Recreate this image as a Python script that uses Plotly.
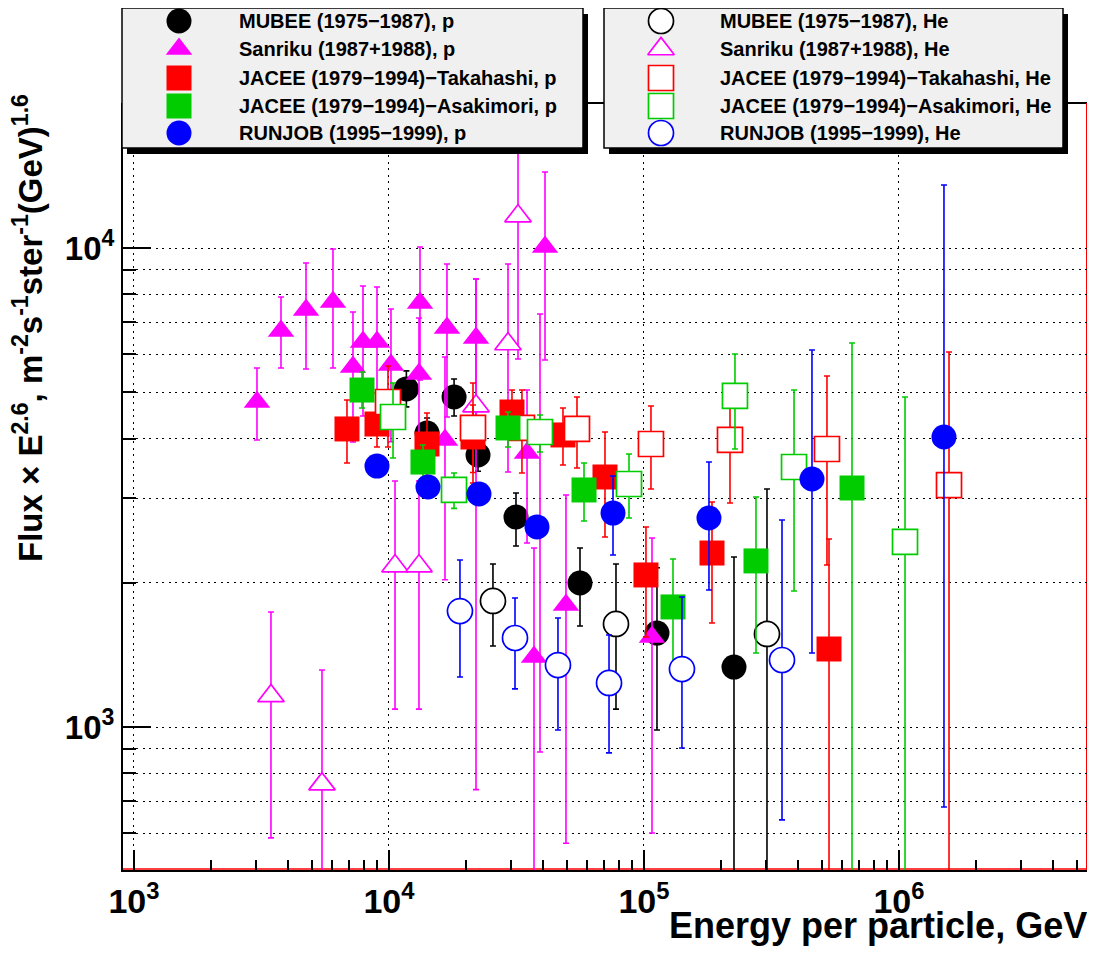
import plotly.graph_objects as go

# The page adds an 8px body margin, so the figure is 8px smaller than the 1095x966 window
OFF = 8
W, H = 1095 - OFF, 966 - OFF
FONT = "Liberation Sans, Arial, Helvetica, sans-serif"


def PX(sx):  # window pixel -> paper x
    return (sx - OFF) / W


def PY(sy):  # window pixel -> paper y
    return 1 - (sy - OFF) / H


# ---------------- data: energy (GeV), flux x E^2.6, upper / lower error-bar ends -------------
mubee_p_E = [11700, 14100, 18000, 22340, 31480, 56110, 112450, 225400]
mubee_p_F = [5080, 4110, 4886, 3697, 2744, 1998, 1571, 1334]
mubee_p_hi = [5540, 4417, 5328, 3975, 3080, 2364, 2150, 2264]
mubee_p_lo = [4660, 3800, 4460, 3420, 2387, 1625, 986, 300]

mubee_he_E = [25570, 77660, 303600]
mubee_he_F = [1833, 1641, 1564]
mubee_he_hi = [2189, 2189, 3140]
mubee_he_lo = [1476, 1090, 300]

sanriku_p_E = [3036, 3771, 4727, 6030, 7224, 7908, 8973, 10180, 13230, 13110,
               16880, 21940, 16580, 34780, 40910, 37040, 49440, 107500]
sanriku_p_F = [4770, 6709, 7423, 7714, 5644, 6364, 6364, 5698, 7677, 5457,
               6807, 6487, 3974, 3733, 10050, 1400, 1798, 1541]
sanriku_p_hi = [5617, 7900, 9304, 9952, 7352, 8330, 8290, 7459, 10050, 7143,
                9260, 8615, 5921, 5052, 14410, 2364, 3050, 2481]
sanriku_p_lo = [3974, 5617, 5590, 5617, 3936, 4460, 4440, 3940, 5300, 3770,
                4438, 4360, 2030, 2422, 5836, 300, 572, 601]

sanriku_he_E = [3445, 5461, 10560, 13110, 21940, 29290, 32060, 39100]
sanriku_he_F = [1161, 760, 2168, 2168, 4678, 6303, 11660, 4071]
sanriku_he_hi = [1738, 1315, 3263, 3263, 8615, 9260, 17460, 7282]
sanriku_he_lo = [587, 300, 1090, 1090, 740, 3407, 5865, 887]

jt_p_E = [6843, 8973, 14090, 21350, 30360, 48120, 70320, 101800, 184800, 531600]
jt_p_F = [4190, 4291, 3898, 4031, 4546, 4071, 3326, 2077, 2308, 1455]
jt_p_hi = [4815, 4982, 4524, 4700, 5052, 4635, 4129, 2616, 2950, 2469]
jt_p_lo = [3557, 3842, 3270, 3400, 4040, 3523, 2493, 1541, 1649, 300]

jt_he_E = [9910, 21350, 33220, 54610, 106500, 217400, 521900, 1571000]
jt_he_F = [4770, 4210, 4210, 4190, 3898, 3974, 3805, 3200]
jt_he_hi = [5671, 5227, 5052, 4886, 4678, 5006, 5405, 6064]
jt_he_lo = [3842, 3231, 3391, 3473, 3140, 2935, 2179, 300]

ja_p_E = [7837, 13590, 29290, 58180, 129950, 274900, 654300]
ja_p_F = [5052, 3574, 4210, 3125, 1781, 2222, 3155]
ja_p_hi = [5510, 3880, 4546, 3557, 2243, 3021, 6334]
ja_p_lo = [4635, 3270, 3842, 2692, 1315, 1427, 300]

ja_he_E = [10370, 17990, 39100, 87340, 227400, 387600, 1056000]
ja_he_F = [4438, 3125, 4129, 3216, 4910, 3490, 2434]
ja_he_hi = [5227, 3391, 4481, 3715, 6006, 5052, 4886]
ja_he_lo = [3644, 2860, 3751, 2731, 3805, 1923, 300]

rj_p_E = [8973, 14220, 22540, 38050, 75600, 179800, 455800, 1501000]
rj_p_F = [3506, 3170, 3065, 2616, 2797, 2731, 3294, 4031]
rj_p_hi = [3600, 3260, 3150, 2690, 3342, 3574, 6123, 13540]
rj_p_lo = [3410, 3080, 2980, 2540, 2286, 1932, 1427, 681]

rj_he_E = [18980, 31200, 45990, 72920, 140900, 347700]
rj_he_F = [1746, 1534, 1347, 1236, 1321, 1380]
rj_he_hi = [2232, 1859, 1689, 1556, 1868, 2705]
rj_he_lo = [1272, 1201, 986, 883, 904, 640]

x_major = [1e3, 1e4, 1e5, 1e6]
x_major_text = ["10<sup>3</sup>", "10<sup>4</sup>", "10<sup>5</sup>", "10<sup>6</sup>"]
x_minor = [m * 10 ** d for d in (3, 4, 5) for m in range(2, 10)] + [2e6, 3e6, 4e6, 5e6, 6e6]
y_major = [1e3, 1e4]
y_major_text = ["10<sup>3</sup>", "10<sup>4</sup>"]
y_minor = [600, 700, 800, 900] + [m * 1000 for m in range(2, 10)]

MAG, RED, GRN, BLU, BLK = "#ff00ff", "#ff0000", "#00cc00", "#0000ff", "#000000"

# series: (label, E, F, hi, lo, colour, symbol, filled, legend column)
SERIES = [
    ("MUBEE (1975\u22121987), p", mubee_p_E, mubee_p_F, mubee_p_hi, mubee_p_lo, BLK, "circle", True, 0),
    ("MUBEE (1975\u22121987), He", mubee_he_E, mubee_he_F, mubee_he_hi, mubee_he_lo, BLK, "circle", False, 1),
    ("Sanriku (1987+1988), p", sanriku_p_E, sanriku_p_F, sanriku_p_hi, sanriku_p_lo, MAG, "triangle-up", True, 0),
    ("Sanriku (1987+1988), He", sanriku_he_E, sanriku_he_F, sanriku_he_hi, sanriku_he_lo, MAG, "triangle-up", False, 1),
    ("JACEE (1979\u22121994)\u2212Takahashi, p", jt_p_E, jt_p_F, jt_p_hi, jt_p_lo, RED, "square", True, 0),
    ("JACEE (1979\u22121994)\u2212Takahashi, He", jt_he_E, jt_he_F, jt_he_hi, jt_he_lo, RED, "square", False, 1),
    ("JACEE (1979\u22121994)\u2212Asakimori, p", ja_p_E, ja_p_F, ja_p_hi, ja_p_lo, GRN, "square", True, 0),
    ("JACEE (1979\u22121994)\u2212Asakimori, He", ja_he_E, ja_he_F, ja_he_hi, ja_he_lo, GRN, "square", False, 1),
    ("RUNJOB (1995\u22121999), p", rj_p_E, rj_p_F, rj_p_hi, rj_p_lo, BLU, "circle", True, 0),
    ("RUNJOB (1995\u22121999), He", rj_he_E, rj_he_F, rj_he_hi, rj_he_lo, BLU, "circle", False, 1),
]

# legend layout (window pixels)
LEG_BOX_X = [(122, 583), (604, 1063)]
LEG_BOX_Y = (8, 148)
LEG_KEY_X = [179, 661]
LEG_TEXT_X = [237, 718]
LEG_ROW_Y = [21, 49, 78, 106, 133]
SHADOW = (5, 6)


def marker_style(color, symbol, filled):
    size = 23 if symbol.startswith("triangle") else 25
    return dict(symbol=symbol, size=size, color=color if filled else "white",
                line=dict(color=color, width=0 if filled else 1.7))


fig = go.Figure()
row_count = [0, 0]
for name, E, F, hi, lo, color, symbol, filled, col in SERIES:
    plus = [h - f for h, f in zip(hi, F)]
    minus = [f - l for f, l in zip(F, lo)]
    fig.add_trace(go.Scatter(
        x=E, y=F, mode="markers", name=name, showlegend=False,
        marker=marker_style(color, symbol, filled),
        error_y=dict(type="data", symmetric=False, array=plus, arrayminus=minus,
                     color=color, thickness=1.6, width=3),
        hoverinfo="skip"))
    # legend key, drawn on the pixel overlay
    r = row_count[col]
    row_count[col] += 1
    fig.add_trace(go.Scatter(
        x=[LEG_KEY_X[col]], y=[LEG_ROW_Y[r]], xaxis="x2", yaxis="y2", mode="markers",
        marker=marker_style(color, symbol, filled), showlegend=False, hoverinfo="skip",
        cliponaxis=False))
    fig.add_annotation(xref="paper", yref="paper", x=PX(LEG_TEXT_X[col]), y=PY(LEG_ROW_Y[r]),
                       xanchor="left", yanchor="middle", text=name, showarrow=False,
                       font=dict(family=FONT, size=20, color="black", weight="bold"))

# legend boxes with shadows, drawn on the overlay (above the data, below the keys)
for (x0, x1) in LEG_BOX_X:
    y0, y1 = LEG_BOX_Y
    fig.add_shape(type="rect", xref="x2", yref="y2", x0=x0 + SHADOW[0], x1=x1 + SHADOW[0],
                  y0=y0 + SHADOW[1], y1=y1 + SHADOW[1], fillcolor="black", line=dict(width=0),
                  layer="below")
    fig.add_shape(type="rect", xref="x2", yref="y2", x0=x0, x1=x1, y0=y0, y1=y1,
                  fillcolor="#f0f0f0", line=dict(color="black", width=1.5), layer="below")

DOT = "2px,4.5px"
fig.update_layout(
    template="none",
    width=W, height=H, margin=dict(l=0, r=0, t=0, b=0, autoexpand=False),
    paper_bgcolor="white", plot_bgcolor="rgba(0,0,0,0)", showlegend=False,
    xaxis=dict(type="log", domain=[PX(123), PX(1087)], range=[2.9569, 6.7373], automargin=False,
               tickmode="array", tickvals=x_major, ticktext=x_major_text,
               ticks="inside", ticklen=20, tickwidth=1.5, tickcolor="black",
               showline=True, linecolor="black", linewidth=2, zeroline=False,
               showgrid=True, gridcolor="black", gridwidth=1, griddash=DOT,
               tickfont=dict(family=FONT, size=34, color="black", weight="bold"),
               minor=dict(tickmode="array", tickvals=x_minor, ticks="inside", ticklen=10,
                          tickwidth=1.5, tickcolor="black", showgrid=False)),
    yaxis=dict(type="log", domain=[PY(870), PY(103)], range=[2.7015, 4.3027], automargin=False,
               tickmode="array", tickvals=y_major, ticktext=y_major_text,
               ticks="inside", ticklen=28, tickwidth=1.5, tickcolor="black",
               showline=True, linecolor="black", linewidth=2, zeroline=False,
               showgrid=True, gridcolor="black", gridwidth=1, griddash=DOT,
               tickfont=dict(family=FONT, size=33, color="black", weight="bold"),
               minor=dict(tickmode="array", tickvals=y_minor, ticks="inside", ticklen=13,
                          tickwidth=1.5, tickcolor="black", showgrid=True,
                          gridcolor="black", gridwidth=1, griddash=DOT)),
    xaxis2=dict(domain=[0, 1], range=[OFF, OFF + W], anchor="y2", visible=False, fixedrange=True,
                automargin=False, showgrid=False, zeroline=False),
    yaxis2=dict(domain=[0, 1], range=[OFF + H, OFF], anchor="x2", visible=False, fixedrange=True,
                automargin=False, showgrid=False, zeroline=False),
)

# frame lines (ROOT style)
fig.add_shape(type="line", xref="paper", yref="paper", x0=PX(123), x1=PX(1088),
              y0=PY(103), y1=PY(103), line=dict(color="black", width=2), layer="below")
fig.add_shape(type="line", xref="paper", yref="paper", x0=PX(1087), x1=PX(1087),
              y0=PY(103), y1=PY(870), line=dict(color="red", width=2), layer="below")
fig.add_shape(type="line", xref="paper", yref="paper", x0=PX(123), x1=PX(1087),
              y0=PY(869), y1=PY(869), line=dict(color="red", width=1.5), layer="below")

# axis titles
fig.add_annotation(xref="paper", yref="paper", x=PX(1089), y=PY(925), xanchor="right", yanchor="middle",
                   text="Energy per particle, GeV", showarrow=False,
                   font=dict(family=FONT, size=36, color="black", weight="bold"))
fig.add_annotation(xref="paper", yref="paper", x=PX(5), y=PY(92), xanchor="left", yanchor="top",
                   textangle=-90, showarrow=False,
                   text="Flux \u00d7 E<sup>2.6</sup>, m<sup>-2</sup>s<sup>-1</sup>ster<sup>-1</sup>(GeV)<sup>1.6</sup>",
                   font=dict(family=FONT, size=33, color="black", weight="bold"))

fig.write_html("out.html")
